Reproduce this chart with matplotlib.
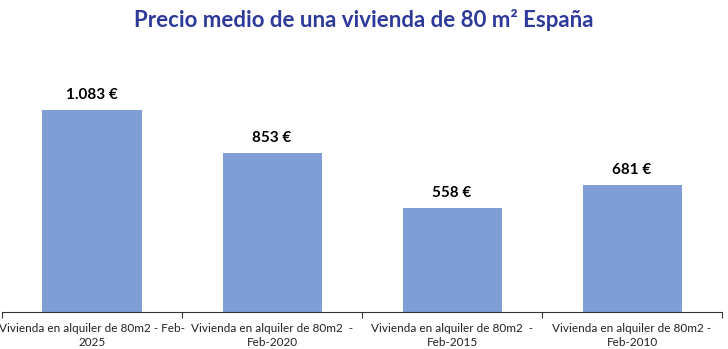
import matplotlib
matplotlib.use("Agg")
import matplotlib.pyplot as plt

categories = [
    "Vivienda en alquiler de 80m2 - Feb-\n2025",
    "Vivienda en alquiler de 80m2  -\nFeb-2020",
    "Vivienda en alquiler de 80m2  -\nFeb-2015",
    "Vivienda en alquiler de 80m2 -\nFeb-2010",
]
values = [1083, 853, 558, 681]
value_labels = ["1.083 €", "853 €", "558 €", "681 €"]

plt.rcParams["font.family"] = ["Lato", "DejaVu Sans"]

W, H = 728, 349
fig = plt.figure(figsize=(W / 100, H / 100), dpi=100)
ax = fig.add_axes([2 / W, 37 / H, 720 / W, 252 / H])

x = range(len(values))
ax.bar(x, values, width=0.55, color="#7F9ED6", zorder=2)
ax.set_xlim(-0.5, len(values) - 0.5)
ax.set_ylim(0, 252 / 0.1865)

for xi, v, lab in zip(x, values, value_labels):
    ax.annotate(lab, (xi, v), xytext=(0, 6), textcoords="offset points",
                ha="center", va="bottom", fontsize=11, fontweight="bold",
                color="#000000")

for s in ["top", "right", "left"]:
    ax.spines[s].set_visible(False)
ax.spines["bottom"].set_color("#333333")
ax.spines["bottom"].set_linewidth(0.8)
ax.set_yticks([])

# category labels centered, ticks on category boundaries
ax.set_xticks(list(x))
ax.set_xticklabels(categories, fontsize=8.5, color="#222222", linespacing=1.35)
ax.tick_params(axis="x", length=0, pad=8)
ax.set_xticks([i - 0.5 for i in range(len(values) + 1)], minor=True)
ax.tick_params(axis="x", which="minor", length=4, width=0.8, color="#333333",
               direction="out")

fig.text(0.5, 1 - 20 / H, "Precio medio de una vivienda de 80 m² España",
         ha="center", va="center", fontsize=16, fontweight="bold",
         color="#2E3A9A")

fig.savefig("out.png", dpi=100, facecolor="white")
